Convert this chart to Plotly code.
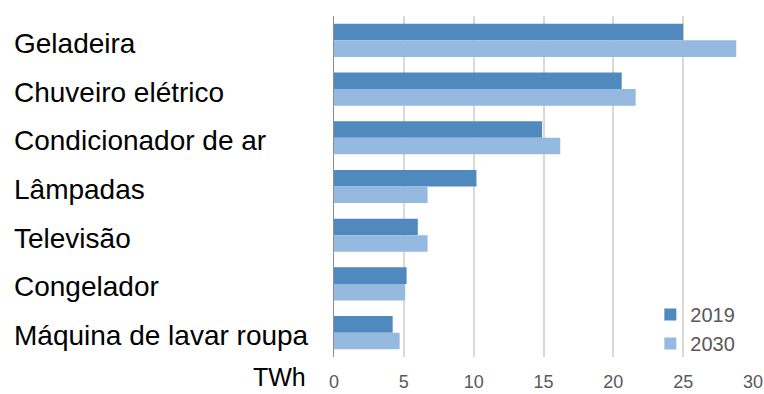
import plotly.graph_objects as go

# Electricity consumption by household appliance (TWh)
appliances = [
    "Geladeira",
    "Chuveiro elétrico",
    "Condicionador de ar",
    "Lâmpadas",
    "Televisão",
    "Congelador",
    "Máquina de lavar roupa",
]
consumo_2019 = [25.0, 20.6, 14.9, 10.2, 6.0, 5.2, 4.2]
consumo_2030 = [28.8, 21.6, 16.2, 6.7, 6.7, 5.1, 4.7]
x_ticks = [0, 5, 10, 15, 20, 25, 30]

DARK = "#4f89bd"
LIGHT = "#96b9df"
TEXT_GRAY = "#595959"
LABEL_FONT = "Liberation Sans, Arial, sans-serif"

fig = go.Figure()
fig.add_trace(go.Bar(
    name="2019", y=appliances, x=consumo_2019, orientation="h",
    marker=dict(color=DARK, line=dict(width=0)),
))
fig.add_trace(go.Bar(
    name="2030", y=appliances, x=consumo_2030, orientation="h",
    marker=dict(color=LIGHT, line=dict(width=0)),
))

# Left-aligned category labels
for name in appliances:
    fig.add_annotation(
        x=-0.7685, xref="paper", y=name, yref="y",
        text=name, showarrow=False, xanchor="left", yanchor="middle",
        yshift=-3,
        font=dict(family=LABEL_FONT, size=28, color="#000000"),
    )

# Unit label next to the value axis
fig.add_annotation(
    x=-0.062, xref="paper", y=-0.058, yref="paper",
    text="TWh", showarrow=False, xanchor="right", yanchor="middle",
    font=dict(family=LABEL_FONT, size=25, color="#000000"),
)

fig.update_layout(
    width=764, height=394,
    margin=dict(l=334, r=11, t=16, b=37, autoexpand=False),
    paper_bgcolor="white", plot_bgcolor="white",
    barmode="group", bargap=0.32, bargroupgap=0,
    showlegend=True,
    legend=dict(
        x=0.755, y=0.182, xanchor="left", yanchor="top",
        xref="paper", yref="paper",
        font=dict(family=LABEL_FONT, size=20, color=TEXT_GRAY),
        bgcolor="rgba(0,0,0,0)", itemwidth=30, tracegroupgap=0,
    ),
    xaxis=dict(
        range=[0, 30], tickvals=x_ticks, ticktext=[str(v) for v in x_ticks],
        showgrid=True, gridcolor="#d9d9d9", gridwidth=1.5,
        zeroline=False, showline=False, ticks="", automargin=False,
        tickfont=dict(family=LABEL_FONT, size=18, color=TEXT_GRAY),
        ticklabelstandoff=12,
    ),
    yaxis=dict(
        autorange="reversed", showticklabels=False, ticks="",
        showgrid=False, zeroline=False, automargin=False,
        showline=True, linecolor="#8c8c8c", linewidth=1,
    ),
)

fig.write_html("out.html")
